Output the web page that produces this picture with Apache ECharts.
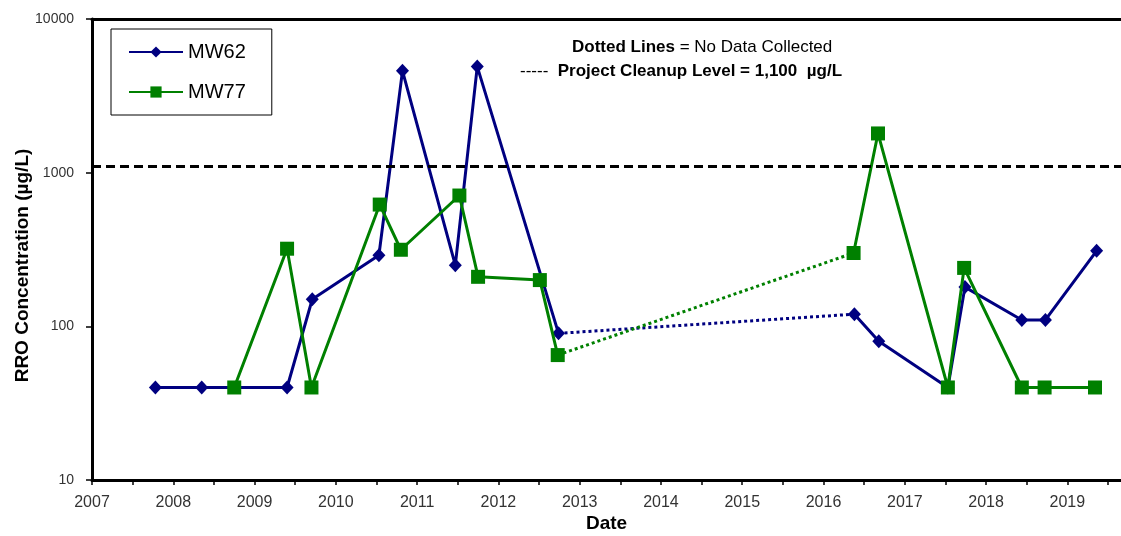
<!DOCTYPE html>
<html>
<head>
<meta charset="utf-8">
<title>RRO Concentration</title>
<script src="https://cdn.jsdelivr.net/npm/echarts@6/dist/echarts.min.js"></script>
<style>
  html, body { margin: 0; padding: 0; background: #fff; }
  #chart { width: 1121px; height: 536px; }
</style>
</head>
<body>
<div id="chart"></div>
<script>
  // sample dates (decimal years) and RRO results in ug/L
  var mw62Dates = [2007.78, 2008.35, 2009.40, 2009.71, 2010.53, 2010.82, 2011.47, 2011.74, 2012.74,
                   2016.38, 2016.68, 2017.53, 2017.74, 2018.44, 2018.73, 2019.36];
  var mw62Values = [40, 40, 40, 150, 290, 4600, 250, 4900, 90,
                    120, 80, 40, 180, 110, 110, 310];

  var mw77Dates = [2008.75, 2009.40, 2009.70, 2010.54, 2010.80, 2011.52, 2011.75, 2012.51, 2012.73,
                   2016.37, 2016.67, 2017.53, 2017.73, 2018.44, 2018.72, 2019.34];
  var mw77Values = [40, 320, 40, 620, 315, 710, 210, 200, 65,
                    300, 1800, 40, 240, 40, 40, 40];

  // no samples collected in between these dates -> dotted
  var gapStart = 2013;
  var gapEnd = 2016;
  var cleanupLevel = 1100;

  var xMin = 2007;
  var xMax = 2019.66;
  var yMin = 10;
  var yMax = 10000;

  var BLUE = '#000080';
  var GREEN = '#008000';
  var FONT = 'Liberation Sans, Arial, sans-serif';

  function pairs(dates, values, from, to) {
    var out = [];
    for (var i = 0; i < dates.length; i++) {
      if (dates[i] >= from && dates[i] <= to) out.push([dates[i], values[i]]);
    }
    return out;
  }

  function gapPair(dates, values) {
    var before = pairs(dates, values, -Infinity, gapStart);
    var after = pairs(dates, values, gapEnd, Infinity);
    return [before[before.length - 1], after[0]];
  }

  function solid(name, color, symbol, size, data) {
    return {
      name: name,
      type: 'line',
      data: data,
      symbol: symbol,
      symbolSize: size,
      showSymbol: true,
      lineStyle: { color: color, width: 3 },
      itemStyle: { color: color },
      emphasis: { disabled: true },
      animation: false,
      z: name === 'MW77' ? 4 : 3
    };
  }

  function dotted(name, color, data) {
    return {
      name: name,
      type: 'line',
      data: data,
      symbol: 'none',
      lineStyle: { color: color, width: 3, type: [3, 3] },
      emphasis: { disabled: true },
      animation: false,
      z: 2
    };
  }

  var chart = echarts.init(document.getElementById('chart'));

  chart.setOption({
    backgroundColor: '#fff',
    grid: { left: 92, right: 0, top: 19, bottom: 56, containLabel: false, outerBoundsMode: 'none' },
    legend: {
      data: ['MW62', 'MW77'],
      orient: 'vertical',
      left: 111,
      top: 29,
      padding: [13, 26, 13, 17],
      itemGap: 20,
      itemWidth: 54,
      itemHeight: 14,
      borderColor: '#000',
      borderWidth: 1,
      backgroundColor: '#fff',
      selectedMode: false,
      textStyle: { fontFamily: FONT, fontSize: 20, color: '#000', padding: [0, 0, 0, 0] }
    },
    graphic: [
      {
        type: 'text',
        left: 572,
        top: 39,
        style: {
          text: '{b|Dotted Lines} = No Data Collected',
          fontFamily: FONT,
          fontSize: 17,
          fill: '#000',
          rich: { b: { fontFamily: FONT, fontSize: 17, fontWeight: 'bold', fill: '#000' } }
        }
      },
      {
        type: 'text',
        left: 520,
        top: 63,
        style: {
          text: '-----  {b|Project Cleanup Level = 1,100  \u00b5g/L}',
          fontFamily: FONT,
          fontSize: 17,
          fill: '#000',
          rich: { b: { fontFamily: FONT, fontSize: 17, fontWeight: 'bold', fill: '#000' } }
        }
      }
    ],
    xAxis: [
      {
        type: 'value',
        min: xMin,
        max: xMax,
        interval: 0.5,
        name: 'Date',
        nameLocation: 'middle',
        nameGap: 34,
        nameMoveOverlap: false,
        nameTextStyle: { fontFamily: FONT, fontSize: 19, fontWeight: 'bold', color: '#000' },
        axisLine: { lineStyle: { color: '#000', width: 3 } },
        axisTick: { inside: false, length: 5, lineStyle: { color: '#000', width: 1.5 } },
        axisLabel: {
          margin: 15,
          fontFamily: FONT,
          fontSize: 16,
          color: '#333',
          showMaxLabel: false,
          formatter: function (v) { return v % 1 === 0 ? String(v) : ''; }
        },
        splitLine: { show: false }
      },
      {
        type: 'value',
        position: 'top',
        min: xMin,
        max: xMax,
        axisLine: { show: true, lineStyle: { color: '#000', width: 3 } },
        axisTick: { show: false },
        axisLabel: { show: false },
        splitLine: { show: false }
      }
    ],
    yAxis: {
      type: 'log',
      logBase: 10,
      min: yMin,
      max: yMax,
      name: 'RRO Concentration (\u00b5g/L)',
      nameLocation: 'middle',
      nameGap: 60,
      nameMoveOverlap: false,
      nameTextStyle: { fontFamily: FONT, fontSize: 19, fontWeight: 'bold', color: '#000', padding: [0, 32, 0, 0] },
      axisLine: { show: true, lineStyle: { color: '#000', width: 3 } },
      axisTick: { show: true, inside: false, length: 6, lineStyle: { color: '#000', width: 1.5 } },
      minorTick: { show: false },
      axisLabel: {
        margin: 18,
        fontFamily: FONT,
        fontSize: 14,
        color: '#333',
        formatter: function (v) { return String(Math.round(v)); }
      },
      splitLine: { show: false }
    },
    series: [
      dotted('MW62 gap', BLUE, gapPair(mw62Dates, mw62Values)),
      dotted('MW77 gap', GREEN, gapPair(mw77Dates, mw77Values)),
      solid('MW62', BLUE, 'diamond', [13, 14], pairs(mw62Dates, mw62Values, -Infinity, gapStart)),
      solid('MW62', BLUE, 'diamond', [13, 14], pairs(mw62Dates, mw62Values, gapEnd, Infinity)),
      solid('MW77', GREEN, 'rect', 14, pairs(mw77Dates, mw77Values, -Infinity, gapStart)),
      solid('MW77', GREEN, 'rect', 14, pairs(mw77Dates, mw77Values, gapEnd, Infinity)),
      {
        name: 'cleanup',
        type: 'line',
        data: [],
        markLine: {
          silent: true,
          symbol: 'none',
          label: { show: false },
          animation: false,
          lineStyle: { color: '#000', width: 3, type: [9, 5] },
          data: [{ yAxis: cleanupLevel }]
        }
      }
    ]
  });
</script>
</body>
</html>
